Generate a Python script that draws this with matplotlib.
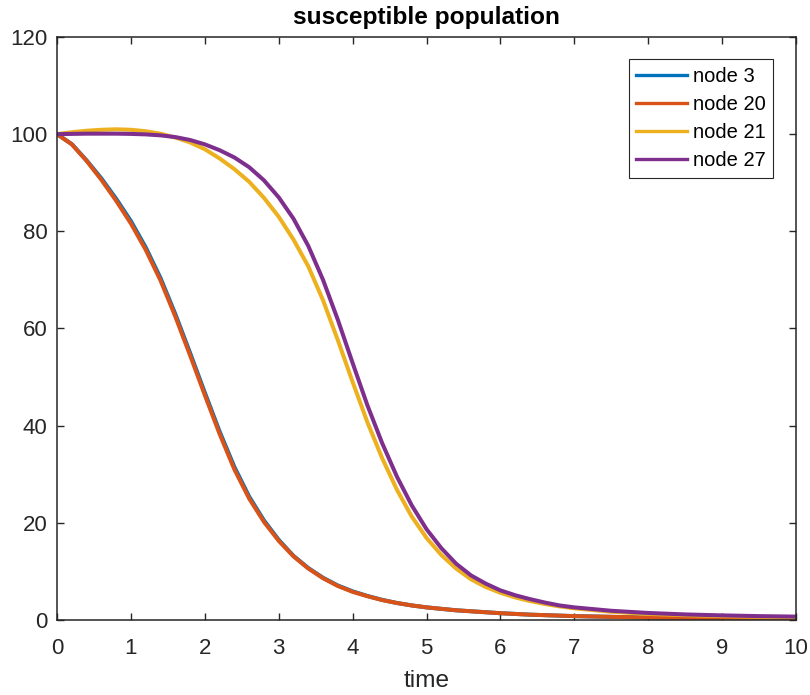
import numpy as np
import matplotlib.pyplot as plt

plt.rcParams["font.family"] = ["Liberation Sans", "DejaVu Sans"]
plt.rcParams["font.size"] = 16

##### data
time = [0.0, 0.2, 0.4, 0.6, 0.8, 1.0, 1.2, 1.4, 1.6, 1.8, 2.0, 2.2, 2.4, 2.6, 2.8,
        3.0, 3.2, 3.4, 3.6, 3.8, 4.0, 4.2, 4.4, 4.6, 4.8, 5.0, 5.2, 5.4, 5.6, 5.8,
        6.0, 6.2, 6.4, 6.6, 6.8, 7.0, 7.5, 8.0, 8.5, 9.0, 9.5, 10.0]
node3 = [100, 97.95, 94.6, 90.9, 86.7, 82.1, 76.7, 70.4, 63.0, 55.0, 46.8, 38.8,
         31.5, 25.4, 20.5, 16.5, 13.2, 10.7, 8.7, 7.1, 5.9, 4.95, 4.15, 3.5, 3.0,
         2.6, 2.3, 2.0, 1.8, 1.6, 1.4, 1.25, 1.1, 1.0, 0.9, 0.8, 0.65, 0.5, 0.4,
         0.3, 0.25, 0.2]
node20 = [100, 97.9, 94.5, 90.6, 86.3, 81.6, 76.2, 69.9, 62.5, 54.5, 46.3, 38.3,
          31.0, 25.0, 20.2, 16.3, 13.1, 10.6, 8.6, 7.0, 5.8, 4.9, 4.1, 3.5, 3.0,
          2.6, 2.3, 2.0, 1.8, 1.6, 1.4, 1.25, 1.1, 1.0, 0.9, 0.8, 0.65, 0.5, 0.4,
          0.3, 0.25, 0.2]
node21 = [100, 100.4, 100.7, 100.9, 101.0, 100.9, 100.6, 100.1, 99.3, 98.3, 96.9,
          95.0, 92.8, 90.2, 86.9, 83.0, 78.3, 72.8, 65.8, 57.6, 49.0, 40.7, 33.3,
          26.8, 21.3, 16.9, 13.4, 10.6, 8.4, 6.8, 5.6, 4.65, 3.9, 3.3, 2.8, 2.4,
          1.7, 1.25, 1.0, 0.8, 0.65, 0.55]
node27 = [100, 100.05, 100.1, 100.1, 100.1, 100.05, 99.95, 99.75, 99.4, 98.8, 97.9,
          96.7, 95.2, 93.2, 90.5, 87.0, 82.6, 77.0, 70.0, 61.8, 52.9, 44.2, 36.4,
          29.5, 23.6, 18.7, 14.8, 11.6, 9.2, 7.5, 6.1, 5.1, 4.3, 3.6, 3.0, 2.6,
          1.9, 1.45, 1.15, 0.95, 0.8, 0.7]
labels = ['node 3', 'node 20', 'node 21', 'node 27']
colors = ['#0072BD', '#D95319', '#EDB120', '#7E2F8E']
########################

axcol = '#262626'
fig = plt.figure(figsize=(8.1, 6.95), dpi=100)
ax = fig.add_axes([0.0704, 0.1079, 0.9123, 0.8389])

for y, lab, c in zip([node3, node20, node21, node27], labels, colors):
    ax.plot(time, y, color=c, lw=2.9, label=lab)

ax.set_xlim(0, 10)
ax.set_ylim(0, 120)
ax.set_xticks(np.arange(0, 11, 1))
ax.set_yticks(np.arange(0, 121, 20))
ax.tick_params(direction='in', length=5, width=1, colors=axcol, labelsize=16,
               top=True, right=True)
ax.tick_params(axis='x', pad=13)
ax.tick_params(axis='y', pad=7)
for s in ax.spines.values():
    s.set_color(axcol)
    s.set_linewidth(1.1)

ax.set_title('susceptible population', fontsize=17.6, fontweight='bold', pad=9)
ax.set_xlabel('time', fontsize=17.6, color=axcol, labelpad=8)

leg = ax.legend(loc='upper right', bbox_to_anchor=(0.969, 0.962), borderaxespad=0,
                fancybox=False, edgecolor=axcol, fontsize=14.5, handlelength=2.5,
                labelspacing=0.45, handletextpad=0.3, borderpad=0.38, framealpha=1)
leg.get_frame().set_linewidth(0.8)
for h in leg.get_lines():
    h.set_linewidth(2.4)

plt.savefig('out.png', dpi=100)
